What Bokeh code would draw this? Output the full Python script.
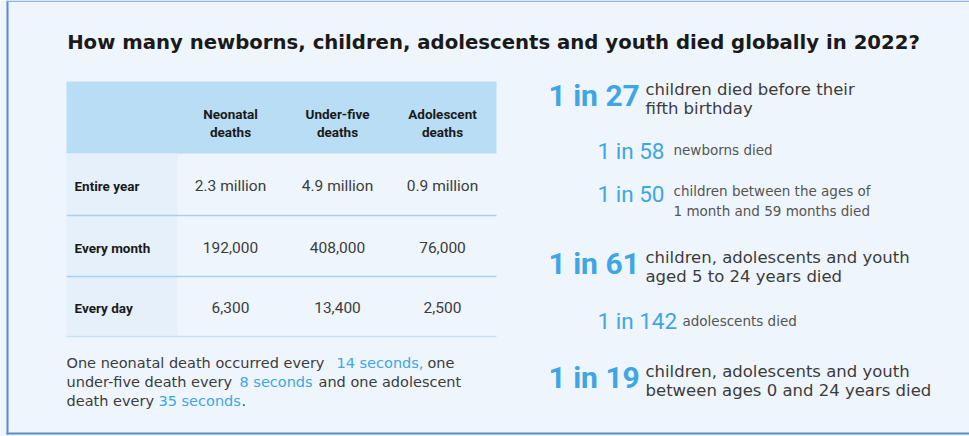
from bokeh.plotting import figure
from bokeh.models import Range1d
from bokeh.core.properties import value
from bokeh.embed import file_html
from bokeh.resources import INLINE

# ---------------- data ----------------
title_text = "How many newborns, children, adolescents and youth died globally in 2022?"
col_head_1 = ["Neonatal", "Under-five", "Adolescent"]
col_head_2 = ["deaths", "deaths", "deaths"]
row_labels = ["Entire year", "Every month", "Every day"]
neonatal = ["2.3 million", "192,000", "6,300"]
under_five = ["4.9 million", "408,000", "13,400"]
adolescent = ["0.9 million", "76,000", "2,500"]

note_text = [
    ["One neonatal death occurred every", "14 seconds,", "one"],
    ["under-five death every", "8 seconds", "and one adolescent"],
    ["death every", "35 seconds", "."],
]
note_highlight = [
    [False, True, False],
    [False, True, False],
    [False, True, False],
]

big_ratios = ["1 in 27", "1 in 61", "1 in 19"]
big_desc = [
    ["children died before their", "fifth birthday"],
    ["children, adolescents and youth", "aged 5 to 24 years died"],
    ["children, adolescents and youth", "between ages 0 and 24 years died"],
]
small_ratios = ["1 in 58", "1 in 50", "1 in 142"]
small_desc = [
    ["newborns died"],
    ["children between the ages of", "1 month and 59 months died"],
    ["adolescents died"],
]

# ---------------- style / layout ----------------
BG = "#EEF5FC"
BORDER = "#5A8AD6"
HEAD = "#B8DDF4"
LABCOL = "#E5F0FA"
SEP = "#A6D2EF"
BLUE = "#3FA6E6"
DARK = "#1A1A1A"
GRAY = "#3C3C3C"

p = figure(width=969, height=436, output_backend="svg", toolbar_location=None,
           x_range=Range1d(0, 969), y_range=Range1d(436, 0), min_border=0)
p.axis.visible = False
p.grid.visible = False
p.outline_line_color = None
p.background_fill_color = BG
p.border_fill_color = BG

# frame borders
p.quad(left=[6], right=[8], top=[0], bottom=[434], color=BORDER, line_color=None)
p.quad(left=[6], right=[969], top=[432], bottom=[434], color=BORDER, line_color=None)
p.quad(left=[6], right=[969], top=[0], bottom=[1.5], color="#8FB2E6", line_color=None)

# title
p.text(x=[493], y=[42], text=[title_text], text_font=value("DejaVu Sans"),
       text_font_style="bold", text_font_size="19.7px", text_color=DARK,
       text_align="center", text_baseline="middle")

# table geometry
tl, tr = 66, 496
col_x = [230, 337, 442]
row_y = [185, 247, 307]
sep_y = [215, 276, 336]

p.quad(left=[tl], right=[tr], top=[81], bottom=[153], color=HEAD, line_color=None)
p.quad(left=[tl], right=[177], top=[153], bottom=[336], color=LABCOL, line_color=None)
p.segment(x0=[tl] * 3, x1=[tr] * 3, y0=sep_y, y1=sep_y,
          line_color=[SEP, SEP, "#C9E2F4"], line_width=1.6)

p.text(x=col_x, y=[113] * 3, text=col_head_1, text_font=value("Roboto"),
       text_font_style="bold", text_font_size="13.5px", text_color=DARK,
       text_align="center", text_baseline="middle")
p.text(x=col_x, y=[131] * 3, text=col_head_2, text_font=value("Roboto"),
       text_font_style="bold", text_font_size="13.5px", text_color=DARK,
       text_align="center", text_baseline="middle")

p.text(x=[74] * 3, y=row_y, text=row_labels, text_font=value("Roboto"),
       text_font_style="bold", text_font_size="13.5px", text_color=DARK,
       text_align="left", text_baseline="middle")

for cx, col in zip(col_x, [neonatal, under_five, adolescent]):
    p.text(x=[cx] * 3, y=row_y, text=col, text_font=value("Roboto"),
           text_font_size="15.5px", text_color=GRAY,
           text_align="center", text_baseline="middle")

# footnote
note_x = [[66, 336, 427], [66, 239, 318], [66, 158, 241]]
note_y = [362, 381, 400]
for xs, yy, segs, hl in zip(note_x, note_y, note_text, note_highlight):
    for xx, s, h in zip(xs, segs, hl):
        p.text(x=[xx], y=[yy], text=[s], text_font=value("DejaVu Sans"),
               text_font_size="14.5px", text_color=BLUE if h else GRAY,
               text_align="left", text_baseline="middle")

# right-side stats
big_y = [95, 263, 377]
p.text(x=[548] * 3, y=big_y, text=big_ratios, text_font=value("Roboto"),
       text_font_style="bold", text_font_size="30px", text_color=BLUE,
       text_align="left", text_baseline="middle")
for yy, lines in zip(big_y, big_desc):
    p.text(x=[645] * len(lines), y=[yy - 6 + 18.5 * i for i in range(len(lines))],
           text=lines, text_font=value("DejaVu Sans"), text_font_size="16.5px",
           text_color=GRAY, text_align="left", text_baseline="middle")

small_y = [150, 193, 320]
small_desc_x = [673, 673, 682]
small_desc_y = [[149], [190, 210], [320]]
p.text(x=[597] * 3, y=small_y, text=small_ratios, text_font=value("Roboto"),
       text_font_size="22.5px", text_color=BLUE,
       text_align="left", text_baseline="middle")
for dx, ys, lines in zip(small_desc_x, small_desc_y, small_desc):
    p.text(x=[dx] * len(lines), y=ys, text=lines, text_font=value("DejaVu Sans"),
           text_font_size="13.5px", text_color="#555555",
           text_align="left", text_baseline="middle")

open("out.html", "w").write(file_html(p, INLINE))
